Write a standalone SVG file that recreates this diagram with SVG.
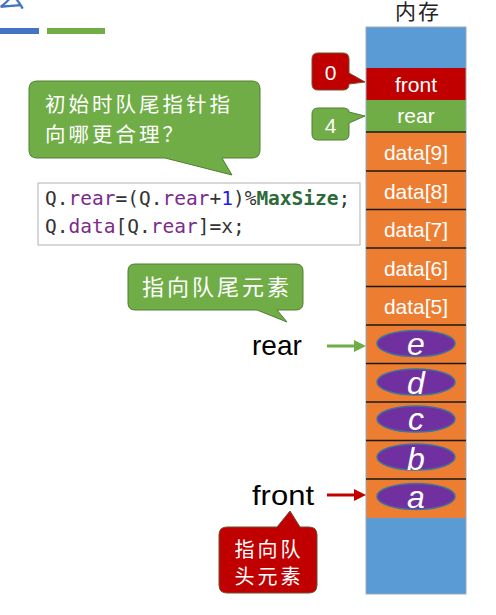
<svg xmlns="http://www.w3.org/2000/svg" width="496" height="615" viewBox="0 0 496 615">
<style>
.cjk{font-family:"Noto Sans CJK SC","Noto Sans",sans-serif;}
.lat{font-family:"Liberation Sans","DejaVu Sans",sans-serif;}
.mono{font-family:"DejaVu Sans Mono","Liberation Mono",monospace;font-size:19.5px;fill:#333;}
.w{fill:#fff;}
.sep{stroke:#1a1a1a;stroke-width:1.5;}
.cell{font-size:21px;text-anchor:middle;}
.ell{fill:#7030a0;stroke:#41719c;stroke-width:1.5;}
.let{font-family:"Liberation Sans","DejaVu Sans",sans-serif;font-style:italic;font-size:32px;fill:#fff;text-anchor:middle;}
.kw{fill:#7b2a8c;}
.num{fill:#1c1cf0;}
.mac{fill:#2e6a3a;font-weight:bold;}
.gcall{fill:#70ad47;stroke:#507e32;stroke-width:1;}
.rcall{fill:#c00000;stroke:#6f5030;stroke-width:1;}
</style>
<rect width="496" height="615" fill="#fff"/>

<g id="title">
<text x="-3" y="8" class="cjk" font-size="28" fill="#4472c4">么</text>
<rect x="0" y="28" width="39" height="6" fill="#4472c4"/>
<rect x="47" y="28" width="58" height="6" fill="#70ad47"/>
</g>

<g id="memory">
<text x="418" y="19" class="cjk" font-size="21" fill="#222" text-anchor="middle" letter-spacing="2">内存</text>
<rect x="366" y="27" width="100" height="41" fill="#5b9bd5"/>
<rect x="366" y="68" width="100" height="32" fill="#c00000"/>
<rect x="366" y="100" width="100" height="32" fill="#70ad47"/>
<rect x="366" y="132" width="100" height="386" fill="#ed7d31"/>
<rect x="366" y="518" width="100" height="76" fill="#5b9bd5"/>
<rect x="366" y="27" width="100" height="567" fill="none" stroke="#9aa9bd" stroke-width="1"/>
<line x1="366" y1="132" x2="466" y2="132" class="sep"/>
<line x1="366" y1="171" x2="466" y2="171" class="sep"/>
<line x1="366" y1="209.5" x2="466" y2="209.5" class="sep"/>
<line x1="366" y1="248" x2="466" y2="248" class="sep"/>
<line x1="366" y1="286.5" x2="466" y2="286.5" class="sep"/>
<line x1="366" y1="325" x2="466" y2="325" class="sep"/>
<line x1="366" y1="363.5" x2="466" y2="363.5" class="sep"/>
<line x1="366" y1="402" x2="466" y2="402" class="sep"/>
<line x1="366" y1="440.5" x2="466" y2="440.5" class="sep"/>
<line x1="366" y1="479" x2="466" y2="479" class="sep"/>
<text x="416" y="92" class="lat cell w">front</text>
<text x="416" y="123" class="lat cell w">rear</text>
<text x="416" y="160" class="lat cell w">data[9]</text>
<text x="416" y="198.5" class="lat cell w">data[8]</text>
<text x="416" y="237" class="lat cell w">data[7]</text>
<text x="416" y="275.5" class="lat cell w">data[6]</text>
<text x="416" y="314" class="lat cell w">data[5]</text>
</g>

<g id="elem-e"><ellipse cx="416" cy="343.5" rx="39" ry="13" class="ell"/><text x="416" y="355" class="let">e</text></g>
<g id="elem-d"><ellipse cx="416" cy="382" rx="39" ry="13" class="ell"/><text x="416" y="394" class="let">d</text></g>
<g id="elem-c"><ellipse cx="416" cy="419" rx="39" ry="13" class="ell"/><text x="416" y="430" class="let">c</text></g>
<g id="elem-b"><ellipse cx="416" cy="457" rx="39" ry="13" class="ell"/><text x="416" y="470" class="let">b</text></g>
<g id="elem-a"><ellipse cx="416" cy="496.5" rx="39" ry="13" class="ell"/><text x="416" y="508" class="let">a</text></g>

<g id="callout-0">
<path d="M318,53 H343 Q349,53 349,59 V73 L365,82 L349,84 V84 Q349,90 343,90 H318 Q312,90 312,84 V59 Q312,53 318,53 Z" class="rcall"/>
<text x="330.5" y="80" class="lat w" font-size="21" text-anchor="middle">0</text>
</g>
<g id="callout-4">
<path d="M318,108 H343 Q349,108 349,112 V112 L365,116 L349,123 V134 Q349,140 343,140 H318 Q312,140 312,134 V114 Q312,108 318,108 Z" class="gcall"/>
<text x="330.5" y="133" class="lat w" font-size="21" text-anchor="middle">4</text>
</g>

<g id="callout-question">
<path d="M37,81 H252 Q260,81 260,89 V150 Q260,158 252,158 H222 L232,175 L165,158 H37 Q29,158 29,150 V89 Q29,81 37,81 Z" class="gcall"/>
<text x="45" y="112" class="cjk w" font-size="20.5" letter-spacing="3">初始时队尾指针指</text>
<text x="45" y="142" class="cjk w" font-size="20.5" letter-spacing="3">向哪更合理？</text>
</g>

<g id="code">
<rect x="38" y="183" width="322" height="62" fill="#fff" stroke="#bfbfbf" stroke-width="1.2"/>
<text x="45" y="205" class="mono">Q.<tspan class="kw">rear</tspan>=(Q.<tspan class="kw">rear</tspan>+<tspan class="num">1</tspan>)%<tspan class="mac">MaxSize</tspan>;</text>
<text x="45" y="233" class="mono">Q.<tspan class="kw">data</tspan>[Q.<tspan class="kw">rear</tspan>]=x;</text>
</g>

<g id="callout-rear-elem">
<path d="M135,264 H296 Q303,264 303,271 V303 Q303,310 296,310 H277 L287,322 L257,310 H135 Q128,310 128,303 V271 Q128,264 135,264 Z" class="gcall"/>
<text x="217" y="295" class="cjk w" font-size="22" letter-spacing="3" text-anchor="middle">指向队尾元素</text>
</g>

<g id="label-rear"><text x="252" y="355" class="lat" font-size="28" fill="#000">rear</text></g>
<g id="label-front"><text x="252" y="505" class="lat" font-size="28" fill="#000" textLength="62" lengthAdjust="spacingAndGlyphs">front</text></g>

<g id="callout-front-elem">
<path d="M227,527 H277 L290,511 L300,527 H309 Q317,527 317,535 V585 Q317,593 309,593 H227 Q219,593 219,585 V535 Q219,527 227,527 Z" class="rcall"/>
<text x="269" y="557" class="cjk w" font-size="20" letter-spacing="3" text-anchor="middle">指向队</text>
<text x="269" y="584" class="cjk w" font-size="20" letter-spacing="3" text-anchor="middle">头元素</text>
</g>

<g id="connectors">
<line x1="327" y1="346" x2="356" y2="346" stroke="#70ad47" stroke-width="3"/>
<polygon points="354,340 366,346 354,352" fill="#70ad47"/>
<line x1="327" y1="495" x2="356" y2="495" stroke="#c00000" stroke-width="3"/>
<polygon points="354,489 366,495 354,501" fill="#c00000"/>
</g>
</svg>
